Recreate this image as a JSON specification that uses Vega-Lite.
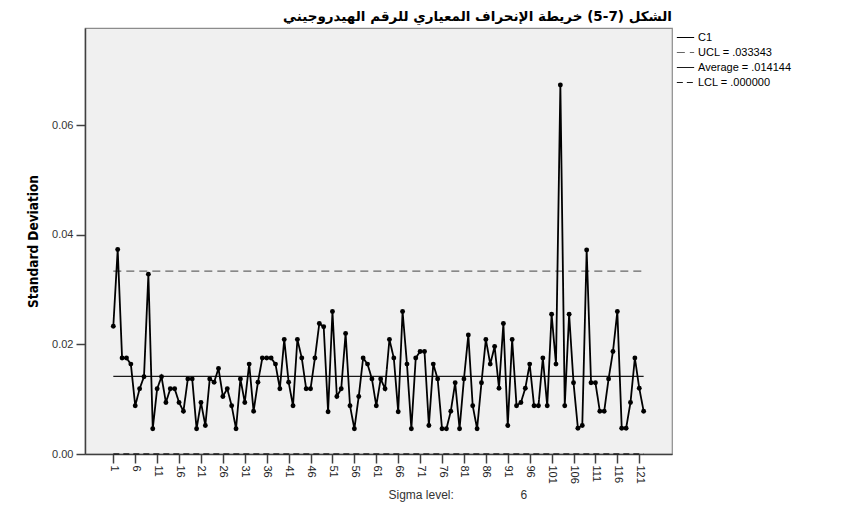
{
  "$schema": "https://vega.github.io/schema/vega-lite/v6.json",
  "width": 587,
  "height": 426,
  "autosize": {"type": "none"},
  "padding": {"left": 85, "top": 28, "right": 173, "bottom": 52},
  "background": "white",
  "title": {
    "text": "الشكل (7-5) خريطة الإنحراف المعياري للرقم الهيدروجيني",
    "anchor": "end",
    "frame": "group",
    "font": "DejaVu Sans",
    "fontSize": 13.5,
    "fontWeight": "bold",
    "color": "#000000",
    "offset": 5
  },
  "datasets": {
    "sd": [
      {"sample": 1, "sd": 0.0233}, {"sample": 2, "sd": 0.0373}, {"sample": 3, "sd": 0.0175}, {"sample": 4, "sd": 0.0175},
      {"sample": 5, "sd": 0.0164}, {"sample": 6, "sd": 0.0088}, {"sample": 7, "sd": 0.0119}, {"sample": 8, "sd": 0.0141},
      {"sample": 9, "sd": 0.0328}, {"sample": 10, "sd": 0.0046}, {"sample": 11, "sd": 0.0119}, {"sample": 12, "sd": 0.0141},
      {"sample": 13, "sd": 0.0094}, {"sample": 14, "sd": 0.0119}, {"sample": 15, "sd": 0.0119}, {"sample": 16, "sd": 0.0094},
      {"sample": 17, "sd": 0.0078}, {"sample": 18, "sd": 0.0137}, {"sample": 19, "sd": 0.0137}, {"sample": 20, "sd": 0.0046},
      {"sample": 21, "sd": 0.0094}, {"sample": 22, "sd": 0.0052}, {"sample": 23, "sd": 0.0137}, {"sample": 24, "sd": 0.0131},
      {"sample": 25, "sd": 0.0156}, {"sample": 26, "sd": 0.0105}, {"sample": 27, "sd": 0.0119}, {"sample": 28, "sd": 0.0088},
      {"sample": 29, "sd": 0.0046}, {"sample": 30, "sd": 0.0137}, {"sample": 31, "sd": 0.0094}, {"sample": 32, "sd": 0.0164},
      {"sample": 33, "sd": 0.0078}, {"sample": 34, "sd": 0.0131}, {"sample": 35, "sd": 0.0175}, {"sample": 36, "sd": 0.0175},
      {"sample": 37, "sd": 0.0175}, {"sample": 38, "sd": 0.0164}, {"sample": 39, "sd": 0.0119}, {"sample": 40, "sd": 0.0209},
      {"sample": 41, "sd": 0.0131}, {"sample": 42, "sd": 0.0088}, {"sample": 43, "sd": 0.0209}, {"sample": 44, "sd": 0.0175},
      {"sample": 45, "sd": 0.0119}, {"sample": 46, "sd": 0.0119}, {"sample": 47, "sd": 0.0175}, {"sample": 48, "sd": 0.0238},
      {"sample": 49, "sd": 0.0232}, {"sample": 50, "sd": 0.0077}, {"sample": 51, "sd": 0.0260}, {"sample": 52, "sd": 0.0105},
      {"sample": 53, "sd": 0.0119}, {"sample": 54, "sd": 0.0220}, {"sample": 55, "sd": 0.0088}, {"sample": 56, "sd": 0.0046},
      {"sample": 57, "sd": 0.0105}, {"sample": 58, "sd": 0.0175}, {"sample": 59, "sd": 0.0164}, {"sample": 60, "sd": 0.0137},
      {"sample": 61, "sd": 0.0088}, {"sample": 62, "sd": 0.0137}, {"sample": 63, "sd": 0.0119}, {"sample": 64, "sd": 0.0209},
      {"sample": 65, "sd": 0.0175}, {"sample": 66, "sd": 0.0077}, {"sample": 67, "sd": 0.0260}, {"sample": 68, "sd": 0.0164},
      {"sample": 69, "sd": 0.0046}, {"sample": 70, "sd": 0.0175}, {"sample": 71, "sd": 0.0187}, {"sample": 72, "sd": 0.0187},
      {"sample": 73, "sd": 0.0052}, {"sample": 74, "sd": 0.0164}, {"sample": 75, "sd": 0.0137}, {"sample": 76, "sd": 0.0046},
      {"sample": 77, "sd": 0.0046}, {"sample": 78, "sd": 0.0078}, {"sample": 79, "sd": 0.0130}, {"sample": 80, "sd": 0.0046},
      {"sample": 81, "sd": 0.0137}, {"sample": 82, "sd": 0.0217}, {"sample": 83, "sd": 0.0088}, {"sample": 84, "sd": 0.0046},
      {"sample": 85, "sd": 0.0130}, {"sample": 86, "sd": 0.0209}, {"sample": 87, "sd": 0.0164}, {"sample": 88, "sd": 0.0196},
      {"sample": 89, "sd": 0.0120}, {"sample": 90, "sd": 0.0238}, {"sample": 91, "sd": 0.0052}, {"sample": 92, "sd": 0.0209},
      {"sample": 93, "sd": 0.0088}, {"sample": 94, "sd": 0.0094}, {"sample": 95, "sd": 0.0120}, {"sample": 96, "sd": 0.0164},
      {"sample": 97, "sd": 0.0088}, {"sample": 98, "sd": 0.0088}, {"sample": 99, "sd": 0.0175}, {"sample": 100, "sd": 0.0088},
      {"sample": 101, "sd": 0.0255}, {"sample": 102, "sd": 0.0164}, {"sample": 103, "sd": 0.0673}, {"sample": 104, "sd": 0.0088},
      {"sample": 105, "sd": 0.0255}, {"sample": 106, "sd": 0.0130}, {"sample": 107, "sd": 0.0047}, {"sample": 108, "sd": 0.0052},
      {"sample": 109, "sd": 0.0372}, {"sample": 110, "sd": 0.0130}, {"sample": 111, "sd": 0.0130}, {"sample": 112, "sd": 0.0078},
      {"sample": 113, "sd": 0.0078}, {"sample": 114, "sd": 0.0137}, {"sample": 115, "sd": 0.0187}, {"sample": 116, "sd": 0.0260},
      {"sample": 117, "sd": 0.0047}, {"sample": 118, "sd": 0.0047}, {"sample": 119, "sd": 0.0094}, {"sample": 120, "sd": 0.0175},
      {"sample": 121, "sd": 0.0120}, {"sample": 122, "sd": 0.0078}
    ],
    "limits": [
      {"series": "UCL = .033343", "value": 0.033343, "start": 1, "end": 122},
      {"series": "Average = .014144", "value": 0.014144, "start": 1, "end": 122},
      {"series": "LCL = .000000", "value": 0.0, "start": 1, "end": 122}
    ]
  },
  "layer": [
    {
      "data": {"name": "limits"},
      "mark": {"type": "rule", "strokeWidth": 1.3},
      "encoding": {
        "x": {
          "field": "start", "type": "quantitative",
          "scale": {"domain": [-5.46, 128.47], "nice": false, "zero": false},
          "axis": {
            "values": [1, 6, 11, 16, 21, 26, 31, 36, 41, 46, 51, 56, 61, 66, 71, 76, 81, 86, 91, 96, 101, 106, 111, 116, 121],
            "labelAngle": 90, "labelAlign": "left", "labelBaseline": "middle", "labelOverlap": false, "labelBound": false, "labelFlush": false,
            "tickSize": 9, "labelPadding": 2, "labelFontSize": 11, "labelColor": "#222222",
            "title": "Sigma level:\u00a0\u00a0\u00a0\u00a0\u00a0\u00a0\u00a0\u00a0\u00a0\u00a0\u00a0\u00a0\u00a0\u00a0\u00a0\u00a0\u00a0\u00a0\u00a0\u00a06",
            "titleFont": "Liberation Sans", "titleFontWeight": "normal", "titleFontSize": 12,
            "titleAnchor": "start", "titleX": 303, "titleY": 40, "titleBaseline": "middle", "titleColor": "#333333"
          }
        },
        "x2": {"field": "end"},
        "y": {
          "field": "value", "type": "quantitative",
          "scale": {"domain": [0, 0.0777], "nice": false},
          "axis": {
            "values": [0, 0.02, 0.04, 0.06], "format": ".2f",
            "tickSize": 9, "labelPadding": 3, "labelFontSize": 11,
            "title": "Standard Deviation", "titleFont": "DejaVu Sans Condensed", "titleFontWeight": "bold",
            "titleFontSize": 13.5, "titlePadding": 11, "titleColor": "#000000"
          }
        },
        "color": {
          "field": "series", "type": "nominal",
          "scale": {"domain": ["C1", "UCL = .033343", "Average = .014144", "LCL = .000000"], "range": ["#000000", "#666666", "#1a1a1a", "#1a1a1a"]},
          "legend": {"title": null}
        },
        "strokeDash": {
          "field": "series", "type": "nominal",
          "scale": {"domain": ["C1", "UCL = .033343", "Average = .014144", "LCL = .000000"], "range": [[1, 0], [8, 5], [1, 0], [6, 4]]},
          "legend": {"title": null}
        }
      }
    },
    {
      "data": {"name": "sd"},
      "mark": {"type": "line", "strokeWidth": 1.8, "point": {"filled": true, "size": 24, "color": "#000000", "opacity": 1}},
      "encoding": {
        "x": {
          "field": "sample", "type": "quantitative",
          "axis": {
            "values": [1, 6, 11, 16, 21, 26, 31, 36, 41, 46, 51, 56, 61, 66, 71, 76, 81, 86, 91, 96, 101, 106, 111, 116, 121],
            "labelAngle": 90, "labelAlign": "left", "labelBaseline": "middle", "labelOverlap": false, "labelBound": false, "labelFlush": false,
            "tickSize": 9, "labelPadding": 2, "labelFontSize": 11, "labelColor": "#222222",
            "title": "Sigma level:\u00a0\u00a0\u00a0\u00a0\u00a0\u00a0\u00a0\u00a0\u00a0\u00a0\u00a0\u00a0\u00a0\u00a0\u00a0\u00a0\u00a0\u00a0\u00a0\u00a06",
            "titleFont": "Liberation Sans", "titleFontWeight": "normal", "titleFontSize": 12,
            "titleAnchor": "start", "titleX": 303, "titleY": 40, "titleBaseline": "middle", "titleColor": "#333333"
          }
        },
        "y": {
          "field": "sd", "type": "quantitative",
          "axis": {
            "values": [0, 0.02, 0.04, 0.06], "format": ".2f",
            "tickSize": 9, "labelPadding": 3, "labelFontSize": 11,
            "title": "Standard Deviation", "titleFont": "DejaVu Sans Condensed", "titleFontWeight": "bold",
            "titleFontSize": 13.5, "titlePadding": 11, "titleColor": "#000000"
          }
        },
        "color": {"datum": "C1", "type": "nominal", "legend": {"title": null}},
        "strokeDash": {"datum": "C1", "type": "nominal", "legend": {"title": null}}
      }
    }
  ],
  "resolve": {"scale": {"color": "shared", "strokeDash": "shared"}},
  "config": {
    "view": {"fill": "#F0F0F0", "stroke": "#8c8c8c", "strokeWidth": 1.2},
    "font": "Liberation Sans",
    "axis": {
      "grid": false, "domainColor": "#404040", "domainWidth": 1.5,
      "tickColor": "#404040", "tickWidth": 1.5, "labelColor": "#333333", "labelFont": "Liberation Sans", "labelOverlap": false
    },
    "legend": {
      "orient": "right", "offset": 4, "symbolType": "stroke", "symbolSize": 300, "symbolStrokeWidth": 1.2,
      "labelFont": "Liberation Sans", "labelFontSize": 11, "labelColor": "#000000", "rowPadding": 0, "padding": 0,
      "labelOffset": 3
    }
  }
}
